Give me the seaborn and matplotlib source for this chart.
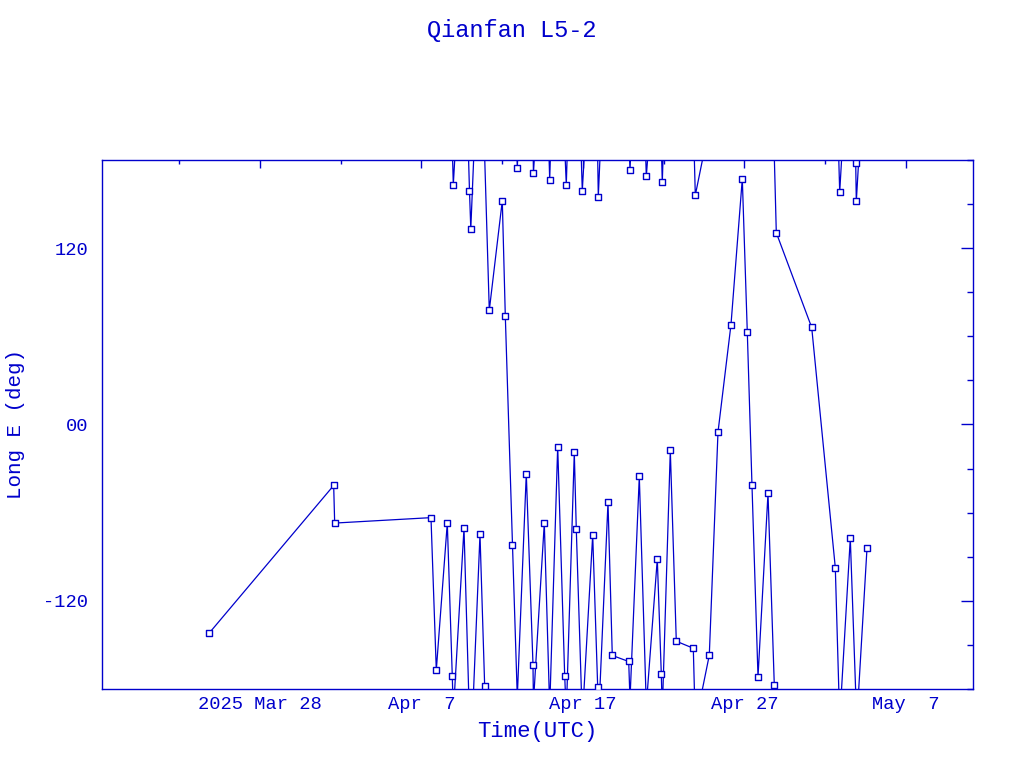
import numpy as np
import pandas as pd
import matplotlib
matplotlib.use("Agg")
import matplotlib.pyplot as plt
from matplotlib.ticker import FixedLocator, FixedFormatter, MultipleLocator, FuncFormatter
import seaborn as sns

title = "Qianfan L5-2"

# sub-satellite longitude samples (deg east)
times = [
    "2025-03-24 20:40", "2025-04-01 13:30", "2025-04-01 15:00", "2025-04-07 14:07",
    "2025-04-07 22:00", "2025-04-08 14:21", "2025-04-08 21:46", "2025-04-08 23:16",
    "2025-04-09 15:10", "2025-04-09 23:19", "2025-04-10 01:16", "2025-04-10 14:56",
    "2025-04-10 21:55", "2025-04-11 04:45", "2025-04-12 00:04", "2025-04-12 04:32",
    "2025-04-12 15:14", "2025-04-12 22:22", "2025-04-13 11:44", "2025-04-13 21:42",
    "2025-04-13 22:20", "2025-04-14 14:30", "2025-04-14 22:31", "2025-04-15 10:24",
    "2025-04-15 20:48", "2025-04-15 23:11", "2025-04-16 11:04", "2025-04-16 14:02",
    "2025-04-16 22:58", "2025-04-17 14:25", "2025-04-17 21:50", "2025-04-17 22:44",
    "2025-04-18 13:09", "2025-04-18 19:32", "2025-04-19 19:55", "2025-04-19 21:50",
    "2025-04-20 11:40", "2025-04-20 22:05", "2025-04-21 14:25", "2025-04-21 20:21",
    "2025-04-21 21:50", "2025-04-22 09:45", "2025-04-22 18:39", "2025-04-23 19:55",
    "2025-04-23 22:54", "2025-04-24 19:41", "2025-04-25 08:37", "2025-04-26 03:56",
    "2025-04-26 20:44", "2025-04-27 04:09", "2025-04-27 11:08", "2025-04-27 20:04",
    "2025-04-28 10:55", "2025-04-28 20:17", "2025-04-28 23:16", "2025-05-01 03:52",
    "2025-05-02 14:56", "2025-05-02 21:29", "2025-05-03 13:13", "2025-05-03 21:14",
    "2025-05-03 22:08", "2025-05-04 14:02",
]
long_e = [
    -141.9, -41.5, -67.1, -63.4,
    -167.2, -67.1, -171.3, 163.2,
    -70.7, 159.1, 133.2, -74.8,
    -178.3, 77.7, 152.3, 74.1,
    -82.0, 174.5, -33.5, -163.6,
    170.8, -67.1, 166.7, -15.0,
    -171.0, 163.2, -19.0, -71.2,
    159.1, -75.3, -178.6, 155.0,
    -53.0, -157.2, -161.3, 172.9,
    -35.4, 168.8, -91.6, -169.5,
    164.7, -17.7, -147.5, -152.3,
    156.0, -157.0, -5.2, 68.0,
    167.2, 63.0, -41.5, -171.8,
    -46.9, -177.4, 130.5, 66.0,
    -97.4, 158.2, -77.5, 178.2,
    151.8, -84.3,
]

xtick_dates = ["2025-03-28", "2025-04-07", "2025-04-17", "2025-04-27", "2025-05-07"]
xtick_labels = ["2025 Mar 28", "Apr  7", "Apr 17", "Apr 27", "May  7"]
ytick_values = [-120, 0, 120]

BLUE = "#0000CC"

sns.set_style("white")
plt.rcParams["font.family"] = ["Liberation Mono", "DejaVu Sans Mono"]
plt.rcParams["axes.unicode_minus"] = False

df = pd.DataFrame({"time": pd.to_datetime(times), "lon": long_e})
# unwrap so segments crossing the +-180 seam run off the edge and come back in
df["unwrapped"] = np.unwrap(df["lon"].to_numpy(), period=360)

fig = plt.figure(figsize=(10.24, 7.68), dpi=100)
ax = fig.add_axes([0.0996, 0.1029, 0.8506, 0.6888])

kmin = int(np.floor((-180 - df["unwrapped"].max()) / 360))
kmax = int(np.ceil((180 - df["unwrapped"].min()) / 360))
for k in range(kmin, kmax + 1):
    sns.lineplot(x=df["time"], y=df["unwrapped"] + 360 * k, ax=ax, sort=False,
                 estimator=None, color=BLUE, lw=0.9)

sns.scatterplot(data=df, x="time", y="lon", ax=ax, marker="s", s=20,
                color="white", edgecolor=BLUE, linewidth=1.0, zorder=3)

ax.set_xlim(pd.Timestamp("2025-03-18 05:13"), pd.Timestamp("2025-05-11 03:34"))
ax.set_ylim(-180, 180)

major_x = pd.to_datetime(xtick_dates)
ax.xaxis.set_major_locator(FixedLocator(matplotlib.dates.date2num(major_x)))
ax.xaxis.set_major_formatter(FixedFormatter(xtick_labels))
minor_x = pd.date_range("2025-03-23", "2025-05-12", freq="10D")
ax.xaxis.set_minor_locator(FixedLocator(matplotlib.dates.date2num(minor_x)))

ax.yaxis.set_major_locator(FixedLocator(ytick_values))
ax.yaxis.set_major_formatter(FuncFormatter(lambda v, p: "%02d" % v))
ax.yaxis.set_minor_locator(MultipleLocator(30))

ax.tick_params(axis="both", which="both", direction="in", colors=BLUE,
               top=True, right=True, width=1.0)
ax.tick_params(axis="x", which="major", length=6, pad=5, labelsize=13.5)
ax.tick_params(axis="x", which="minor", length=3)
ax.tick_params(axis="y", which="major", length=9, pad=10, labelsize=13.5)
ax.tick_params(axis="y", which="minor", length=4.5)

for sp in ax.spines.values():
    sp.set_color(BLUE)
    sp.set_linewidth(1.0)
    sp.set_visible(True)

ax.set_xlabel("Time(UTC)", color=BLUE, fontsize=16, va="center")
ax.xaxis.set_label_coords(0.5, -0.081)
ax.set_ylabel("Long E (deg)", color=BLUE, fontsize=15, va="center")
ax.yaxis.set_label_coords(-0.099, 0.5)

fig.text(0.5, 1 - 30 / 768, title, ha="center", va="center", color=BLUE, fontsize=17)

fig.savefig("out.png", dpi=100)
